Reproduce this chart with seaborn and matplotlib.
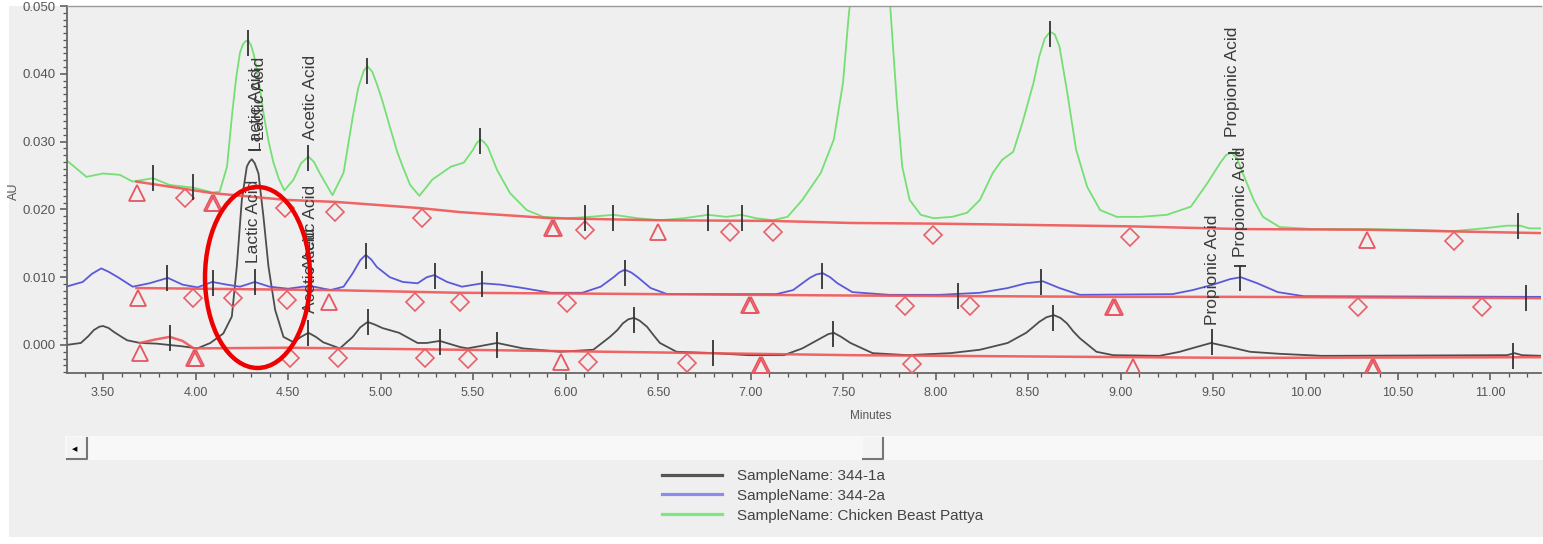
import numpy as np
import matplotlib.pyplot as plt
import seaborn as sns
import pandas as pd
from matplotlib.patches import Ellipse, Rectangle
from matplotlib.lines import Line2D
from matplotlib.ticker import MultipleLocator, FormatStrFormatter

# Legend names and trace colours
samples = ['SampleName: 344-1a', 'SampleName: 344-2a', 'SampleName: Chicken Beast Pattya']
sample_colors = ['#4d4d4d', '#5a5ad8', '#74e074']
legend_colors = ['#555555', '#8c8cee', '#7ee87e']

# Traces (minutes, AU)
minutes_1a = [3.30, 3.38, 3.42, 3.45, 3.48, 3.50, 3.53, 3.56, 3.60, 3.63, 3.70, 3.79, 3.86,
              3.93, 4.01, 4.08, 4.15, 4.196, 4.223, 4.250, 4.277, 4.29, 4.304, 4.32, 4.340,
              4.367, 4.394, 4.430, 4.475, 4.53, 4.57, 4.61, 4.65, 4.69, 4.78, 4.85, 4.89,
              4.93, 4.97, 5.01, 5.10, 5.20, 5.25, 5.32, 5.43, 5.47, 5.63, 5.77, 5.97, 6.15,
              6.24, 6.28, 6.31, 6.34, 6.37, 6.40, 6.44, 6.48, 6.51, 6.60, 6.80, 6.99, 7.18,
              7.28, 7.38, 7.42, 7.45, 7.49, 7.54, 7.66, 7.85, 8.08, 8.24, 8.39, 8.49, 8.53,
              8.56, 8.60, 8.64, 8.675, 8.71, 8.745, 8.78, 8.87, 8.96, 9.21, 9.32, 9.41, 9.49,
              9.59, 9.70, 9.86, 10.09, 11.09, 11.13, 11.17, 11.28]
au_1a = [0.0000, 0.0003, 0.0013, 0.0022, 0.0027, 0.0028, 0.0025, 0.0019, 0.0012, 0.0007,
         0.0003, 0.0002, 0.0000, -0.0002, -0.0005, 0.0003, 0.0017, 0.0042, 0.0116, 0.0214,
         0.0263, 0.0270, 0.0274, 0.0268, 0.0253, 0.0189, 0.0116, 0.0052, 0.0012, 0.0004,
         0.0012, 0.0018, 0.0012, 0.0004, -0.0005, 0.0012, 0.0026, 0.0034, 0.0030, 0.0025,
         0.0018, 0.0003, 0.0003, 0.0006, -0.0003, -0.0005, 0.0003, -0.0005, -0.0010, -0.0007,
         0.0012, 0.0022, 0.0032, 0.0038, 0.0040, 0.0036, 0.0027, 0.0013, 0.0003, -0.0010,
         -0.0012, -0.0015, -0.0015, -0.0005, 0.0010, 0.0016, 0.0018, 0.0012, 0.0003, -0.0012,
         -0.0015, -0.0012, -0.0007, 0.0003, 0.0018, 0.0027, 0.0034, 0.0041, 0.0044, 0.0040,
         0.0032, 0.0020, 0.0010, -0.0010, -0.0015, -0.0016, -0.0010, -0.0003, 0.0003, -0.0003,
         -0.0010, -0.0013, -0.0016, -0.0015, -0.0012, -0.0015, -0.0016]

minutes_2a = [3.30, 3.39, 3.44, 3.49, 3.53, 3.58, 3.66, 3.75, 3.85, 3.93, 4.01, 4.09, 4.17,
              4.24, 4.32, 4.40, 4.50, 4.58, 4.64, 4.73, 4.80, 4.85, 4.89, 4.92, 4.95, 4.98,
              5.05, 5.12, 5.20, 5.25, 5.29, 5.36, 5.44, 5.55, 5.65, 5.77, 5.92, 6.09, 6.19,
              6.26, 6.29, 6.32, 6.355, 6.39, 6.46, 6.55, 6.85, 7.14, 7.23, 7.32, 7.355, 7.39,
              7.43, 7.47, 7.55, 7.75, 8.02, 8.24, 8.39, 8.49, 8.58, 8.67, 8.78, 9.28, 9.39,
              9.50, 9.59, 9.65, 9.74, 9.85, 9.99, 11.28]
au_2a = [0.0086, 0.0093, 0.0105, 0.0113, 0.0108, 0.0100, 0.0086, 0.0091, 0.0099, 0.0089,
         0.0085, 0.0093, 0.0089, 0.0086, 0.0093, 0.0086, 0.0083, 0.0086, 0.0086, 0.0081,
         0.0086, 0.0106, 0.0125, 0.0133, 0.0126, 0.0115, 0.0100, 0.0093, 0.0091, 0.0100,
         0.0103, 0.0093, 0.0086, 0.0091, 0.0089, 0.0084, 0.0077, 0.0077, 0.0086, 0.0100,
         0.0107, 0.0111, 0.0107, 0.0100, 0.0084, 0.0075, 0.0075, 0.0075, 0.0081, 0.0099,
         0.0104, 0.0106, 0.0100, 0.0091, 0.0078, 0.0074, 0.0074, 0.0077, 0.0084, 0.0091,
         0.0094, 0.0084, 0.0074, 0.0075, 0.0081, 0.0089, 0.0097, 0.0100, 0.0091, 0.0078,
         0.0072, 0.0071]

minutes_cbp = [3.30, 3.41, 3.50, 3.59, 3.66, 3.77, 3.86, 3.99, 4.09, 4.13, 4.17, 4.20, 4.22,
               4.24, 4.255, 4.27, 4.285, 4.30, 4.315, 4.33, 4.35, 4.37, 4.395, 4.42, 4.45,
               4.48, 4.53, 4.57, 4.61, 4.64, 4.67, 4.74, 4.80, 4.85, 4.88, 4.91, 4.93, 4.955,
               4.98, 5.01, 5.05, 5.09, 5.12, 5.16, 5.21, 5.28, 5.38, 5.45, 5.50, 5.52, 5.54,
               5.56, 5.58, 5.63, 5.70, 5.79, 5.88, 6.01, 6.13, 6.26, 6.39, 6.51, 6.64, 6.77,
               6.87, 6.95, 7.03, 7.12, 7.20, 7.28, 7.38, 7.45, 7.50, 7.53, 7.56, 7.62, 7.68,
               7.73, 7.76, 7.79, 7.82, 7.86, 7.92, 7.99, 8.09, 8.17, 8.24, 8.31, 8.36, 8.42,
               8.47, 8.53, 8.56, 8.59, 8.62, 8.645, 8.67, 8.71, 8.76, 8.82, 8.89, 8.98, 9.11,
               9.25, 9.38, 9.47, 9.54, 9.57, 9.60, 9.63, 9.66, 9.72, 9.77, 9.86, 10.04, 10.31,
               10.58, 10.80, 10.96, 11.09, 11.16, 11.21, 11.28]
au_cbp = [0.0273, 0.0248, 0.0253, 0.0251, 0.0241, 0.0246, 0.0236, 0.0232, 0.0225, 0.0226,
          0.0263, 0.0347, 0.0395, 0.0431, 0.0443, 0.0448, 0.0449, 0.0442, 0.0428, 0.0408,
          0.0375, 0.0337, 0.0300, 0.0270, 0.0245, 0.0228, 0.0244, 0.0268, 0.0278, 0.0270,
          0.0254, 0.0221, 0.0254, 0.0337, 0.0380, 0.0405, 0.0411, 0.0403, 0.0385, 0.0360,
          0.0322, 0.0285, 0.0263, 0.0236, 0.0220, 0.0244, 0.0263, 0.0269, 0.0288, 0.0298,
          0.0303, 0.0299, 0.0292, 0.0258, 0.0224, 0.0199, 0.0189, 0.0187, 0.0189, 0.0192,
          0.0187, 0.0184, 0.0187, 0.0192, 0.0189, 0.0192, 0.0187, 0.0184, 0.0189, 0.0214,
          0.0254, 0.0303, 0.0387, 0.0484, 0.0560, 0.0700, 0.0720, 0.0600, 0.0480, 0.0362,
          0.0263, 0.0214, 0.0192, 0.0187, 0.0189, 0.0195, 0.0214, 0.0254, 0.0273, 0.0285,
          0.0328, 0.0387, 0.0425, 0.0452, 0.0462, 0.0458, 0.0440, 0.0376, 0.0288, 0.0233,
          0.0199, 0.0189, 0.0189, 0.0192, 0.0204, 0.0239, 0.0269, 0.0280, 0.0284, 0.0275,
          0.0254, 0.0214, 0.0189, 0.0174, 0.0171, 0.0171, 0.0170, 0.0168, 0.0172, 0.0176,
          0.0176, 0.0172, 0.0172]

# Integration baselines (red)
base_t_1a = [3.70, 3.78, 3.86, 3.93, 3.99, 4.50, 5.43, 6.50, 7.54, 9.07, 9.65, 11.28]
base_v_1a = [0.0003, 0.0008, 0.0012, 0.0006, -0.0005, -0.0004, -0.0007, -0.0011, -0.0015,
             -0.0018, -0.0019, -0.0018]
base_t_2a = [3.68, 4.72, 5.43, 6.00, 7.00, 7.54, 8.96, 9.65, 11.28]
base_v_2a = [0.0084, 0.0081, 0.0077, 0.0076, 0.0074, 0.0073, 0.0071, 0.0071, 0.0069]
base_t_cbp = [3.68, 4.09, 4.49, 4.76, 5.21, 5.43, 5.92, 6.50, 7.12, 7.54, 8.00, 9.05, 9.65,
              10.33, 11.28]
base_v_cbp = [0.0241, 0.0224, 0.0214, 0.0211, 0.0202, 0.0196, 0.0187, 0.0184, 0.0183, 0.0180,
              0.0179, 0.0175, 0.0171, 0.0170, 0.0165]

# Peak start/end markers
tri_t = [3.700, 3.990, 4.004, 5.976, 7.050, 7.064, 9.068, 10.358, 10.372,
         3.689, 4.722, 6.990, 7.004, 8.958, 8.972,
         3.684, 4.088, 4.102, 5.925, 5.939, 6.500, 10.332]
tri_v = [-0.0012, -0.0019, -0.0019, -0.0025, -0.0030, -0.0030, -0.0032, -0.0032, -0.0032,
         0.0069, 0.0063, 0.0059, 0.0059, 0.0056, 0.0056,
         0.0224, 0.0210, 0.0210, 0.0173, 0.0173, 0.0167, 0.0155]
dia_t = [4.511, 4.770, 5.241, 5.473, 6.122, 6.657, 7.873,
         3.986, 4.203, 4.495, 5.186, 5.430, 6.008, 7.835, 8.186, 10.284, 10.954,
         3.943, 4.484, 4.754, 5.224, 6.105, 6.889, 7.122, 7.986, 9.051, 10.803]
dia_v = [-0.0019, -0.0019, -0.0019, -0.0021, -0.0025, -0.0027, -0.0028,
         0.0069, 0.0069, 0.0066, 0.0063, 0.0063, 0.0062, 0.0058, 0.0058, 0.0056, 0.0056,
         0.0217, 0.0202, 0.0196, 0.0187, 0.0170, 0.0167, 0.0167, 0.0162, 0.0159, 0.0154]

# Peak apex ticks
apex_t = [3.862, 4.608, 4.932, 5.322, 5.630, 6.370, 6.797, 7.446, 8.635, 9.495, 11.124,
          3.846, 4.095, 4.322, 4.922, 5.295, 5.549, 6.322, 7.386, 8.122, 8.570, 9.646, 11.192,
          3.770, 3.986, 4.284, 4.608, 4.927, 5.538, 6.105, 6.257, 6.770, 6.954, 8.619, 11.146]
apex_v = [0.0010, 0.0018, 0.0034, 0.0004, 0.0000, 0.0037, -0.0012, 0.0016, 0.0040, 0.0004, -0.0016,
          0.0099, 0.0092, 0.0093, 0.0131, 0.0102, 0.0090, 0.0106, 0.0102, 0.0072, 0.0093, 0.0099, 0.0069,
          0.0246, 0.0233, 0.0446, 0.0276, 0.0404, 0.0301, 0.0187, 0.0187, 0.0187, 0.0187, 0.0458, 0.0176]
dash_t = [4.322, 9.612, 9.646]
dash_v = [0.0287, 0.0283, 0.0116]

# Peak names
label_text = ['Lactic Acid', 'Lactic Acid', 'Lactic Acid', 'Acetic Acid', 'Acetic Acid',
              'Acetic Acid', 'Propionic Acid', 'Propionic Acid', 'Propionic Acid']
label_t = [4.328, 4.346, 4.311, 4.619, 4.619, 4.619, 9.603, 9.646, 9.495]
label_v = [0.0286, 0.0302, 0.0121, 0.0303, 0.0111, 0.0047, 0.0307, 0.0130, 0.0030]

plt.rcParams['font.family'] = ['Liberation Sans', 'DejaVu Sans']

W, H = 1543, 544
fig = plt.figure(figsize=(W / 100, H / 100), dpi=100)
fig.patch.set_facecolor('white')
panel = '#efefef'
fig.add_artist(Rectangle((9 / W, 7 / H), 1 - 9 / W, (537 - 6) / H, transform=fig.transFigure,
                         facecolor=panel, edgecolor='none', zorder=-10))

ax = fig.add_axes([67 / W, 1 - 373 / H, (1541 - 67) / W, (373 - 6) / H])
ax.set_facecolor(panel)

traces = pd.concat([
    pd.DataFrame({'minutes': minutes_1a, 'au': au_1a, 'sample': samples[0]}),
    pd.DataFrame({'minutes': minutes_2a, 'au': au_2a, 'sample': samples[1]}),
    pd.DataFrame({'minutes': minutes_cbp, 'au': au_cbp, 'sample': samples[2]}),
])
sns.lineplot(data=traces, x='minutes', y='au', hue='sample', hue_order=samples,
             palette=sample_colors, estimator=None, sort=False, lw=1.3, ax=ax, zorder=2)

red = '#ef5555'
for bt, bv in [(base_t_1a, base_v_1a), (base_t_2a, base_v_2a), (base_t_cbp, base_v_cbp)]:
    ax.plot(bt, bv, color=red, lw=1.8, alpha=0.9, zorder=3)

ax.plot(tri_t, tri_v, ls='none', marker='^', ms=11, mfc='none', mec='#e85560', mew=1.3, zorder=4)
ax.plot(dia_t, dia_v, ls='none', marker='D', ms=9, mfc='none', mec='#e8606a', mew=1.2, zorder=4)
ax.plot(apex_t, apex_v, ls='none', marker='|', ms=19, mec='#333333', mew=1.3, zorder=5)
ax.plot(dash_t, dash_v, ls='none', marker='_', ms=9, mec='#333333', mew=1.3, zorder=5)

for txt, lt, lv in zip(label_text, label_t, label_v):
    ax.text(lt, lv, txt, rotation=90, ha='center', va='bottom', fontsize=12.5,
            color='#3a3a3a', zorder=6)

# red circle drawn round the lactic acid peak
ax.add_patch(Ellipse((4.335, 0.00996), 0.568, 0.0267, facecolor='none',
                     edgecolor='#ee0000', lw=3.2, zorder=7))

ax.set_xlim(3.305, 11.273)
ax.set_ylim(-0.00413, 0.0500)
ax.xaxis.set_major_locator(MultipleLocator(0.5))
ax.xaxis.set_minor_locator(MultipleLocator(0.1))
ax.xaxis.set_major_formatter(FormatStrFormatter('%.2f'))
ax.yaxis.set_major_locator(MultipleLocator(0.01))
ax.yaxis.set_minor_locator(MultipleLocator(0.001))
ax.yaxis.set_major_formatter(FormatStrFormatter('%.3f'))
ax.tick_params(which='both', direction='out', color='#555555', labelcolor='#555555')
ax.tick_params(which='major', length=5, width=1.1, pad=3)
ax.tick_params(which='minor', length=3, width=0.9)
ax.tick_params(axis='x', labelsize=9, pad=5)
ax.tick_params(axis='y', labelsize=9.5)
ax.set_xlabel('')
ax.set_ylabel('')
for side in ['left', 'bottom']:
    ax.spines[side].set_color('#666666')
    ax.spines[side].set_linewidth(1.3)
ax.spines['top'].set_color('#999999')
ax.spines['top'].set_linewidth(1.0)
ax.spines['right'].set_visible(False)

fig.text(871 / W, 1 - 416 / H, 'Minutes', ha='center', va='center', fontsize=8.5, color='#555555')
fig.text(14 / W, 1 - 191 / H, 'AU', ha='center', va='center', rotation=90, fontsize=9, color='#555555')

# scroll bar under the plot
fig.add_artist(Rectangle((65 / W, 1 - 460 / H), 1 - 65 / W, 24 / H, transform=fig.transFigure,
                         facecolor='#f8f8f8', edgecolor='none', zorder=-5))
for x0, x1 in [(67, 87), (863, 883)]:
    fig.add_artist(Rectangle((x0 / W, 1 - 459 / H), (x1 - x0) / W, 22 / H, transform=fig.transFigure,
                             facecolor='#f3f3f3', edgecolor='none', zorder=-4))
    fig.add_artist(Line2D([x1 / W, x1 / W, x0 / W], [1 - 438 / H, 1 - 459 / H, 1 - 459 / H],
                          transform=fig.transFigure, color='#777777', lw=1.5))
fig.text(75 / W, 1 - 449 / H, '\u25c0', ha='center', va='center', fontsize=5,
         family='DejaVu Sans', color='black')

sns.move_legend(ax, 'upper left', bbox_to_anchor=(662 / W, 1 - 469 / H),
                bbox_transform=fig.transFigure, frameon=False, title=None, fontsize=11,
                handlelength=3.9, handletextpad=1.0, labelspacing=0.38, borderpad=0,
                borderaxespad=0)
leg = ax.get_legend()
for line, c in zip(leg.get_lines(), legend_colors):
    line.set_linewidth(2.3)
    line.set_color(c)
for t in leg.get_texts():
    t.set_color('#444444')

fig.savefig('out.png', dpi=100, facecolor=fig.get_facecolor())
